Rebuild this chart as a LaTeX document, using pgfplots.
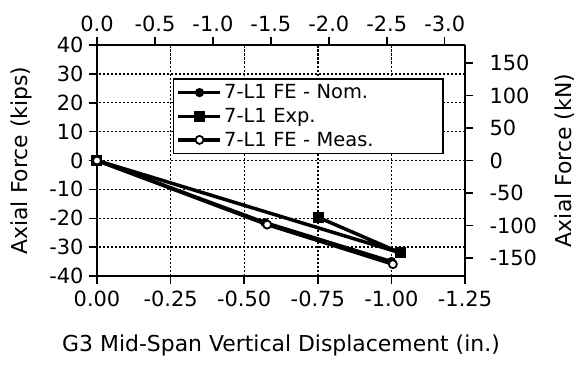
\documentclass[border=0pt]{standalone}
\usepackage{pgfplots}
\pgfplotsset{compat=1.18}
\usepackage{fontspec}
\setmainfont{DejaVu Sans}
\newcommand{\tfont}{\fontsize{21}{24}\selectfont}
\newcommand{\labfont}{\fontsize{22}{25}\selectfont}
\newcommand{\lfont}{\fontsize{19.5}{22}\selectfont}
\pgfplotsset{
  common/.style={
    at={(97bp,88bp)}, anchor=south west, scale only axis,
    width=368bp, height=231bp,
    tick align=outside, major tick length=8bp,
    every tick/.style={black, line width=1.5bp},
    axis line style={line width=2.2bp},
    tick label style={font=\tfont},
    label style={font=\labfont},
    /pgf/number format/assume math mode=true,
  }
}
\begin{document}
\begin{tikzpicture}[x=1bp,y=1bp]
\useasboundingbox (0,0) rectangle (576,364);
\begin{axis}[common,
  xmin=-1.25, xmax=0, x dir=reverse,
  ymin=-40, ymax=40,
  axis x line*=bottom, axis y line*=left,
  xtick={0,-0.25,-0.5,-0.75,-1.0,-1.25},
  xticklabels={0.00,-0.25,-0.50,-0.75,-1.00,-1.25},
  ytick={-40,-30,-20,-10,0,10,20,30,40},
  yticklabels={-40,-30,-20,-10,0,10,20,30,40},
  xticklabel style={yshift=-3bp},
  yticklabel style={xshift=-2bp},
  grid=major,
  major grid style={black, line width=1.4bp, dash pattern=on 2.5bp off 1.5bp},
  xlabel={G3 Mid-Span Vertical Displacement (in.)},
  ylabel={Axial Force (kips)},
  xlabel style={yshift=-22bp},
  ylabel style={yshift=10bp},
  legend style={at={(rel axis cs:0.2065,0.857)}, anchor=north west,
    draw=black, line width=1.5bp, fill=white, font=\lfont,
    inner xsep=3bp, inner ysep=4bp, row sep=4bp,
    cells={anchor=west, text width=214bp}},
  legend image code/.code={%
    \draw[mark repeat=2,mark phase=2,#1] plot coordinates {(0bp,0bp) (21bp,0bp) (42bp,0bp)};},
]
\addplot[black, line width=3.5bp, mark=*, mark size=4bp, mark options={solid, line width=1.2bp, fill=black}]
  coordinates {(0,0) (-0.57,-21.5) (-1.0,-35.0)};
\addlegendentry{7-L1 FE - Nom.}
\addplot[black, line width=3.5bp, mark=square*, mark size=5bp, mark options={solid, line width=1bp, fill=black}]
  coordinates {(0,0) (-1.031,-32.0) (-0.752,-19.7)};
\addlegendentry{7-L1 Exp.}
\addplot[black, line width=3.5bp, mark=*, mark size=4bp, mark options={solid, line width=1.8bp, fill=white}]
  coordinates {(0,0) (-0.578,-22.2) (-1.005,-35.9)};
\addlegendentry{7-L1 FE - Meas.}
\end{axis}
\begin{axis}[common,
  xmin=-3.175, xmax=0, x dir=reverse,
  ymin=-177.93, ymax=177.93,
  axis x line*=top, axis y line*=right,
  xtick={0,-0.5,-1.0,-1.5,-2.0,-2.5,-3.0},
  xticklabels={0.0,-0.5,-1.0,-1.5,-2.0,-2.5,-3.0},
  xticklabel style={yshift=2bp},
  ytick={-150,-100,-50,0,50,100,150},
  yticklabels={-150,-100,-50,0,50,100,150},
  yticklabel style={anchor=west, xshift=13bp},
  ylabel={Axial Force (kN)},
  ylabel style={yshift=-11bp},
]
\addplot[draw=none] coordinates {(0,0)};
\end{axis}
\end{tikzpicture}
\end{document}
